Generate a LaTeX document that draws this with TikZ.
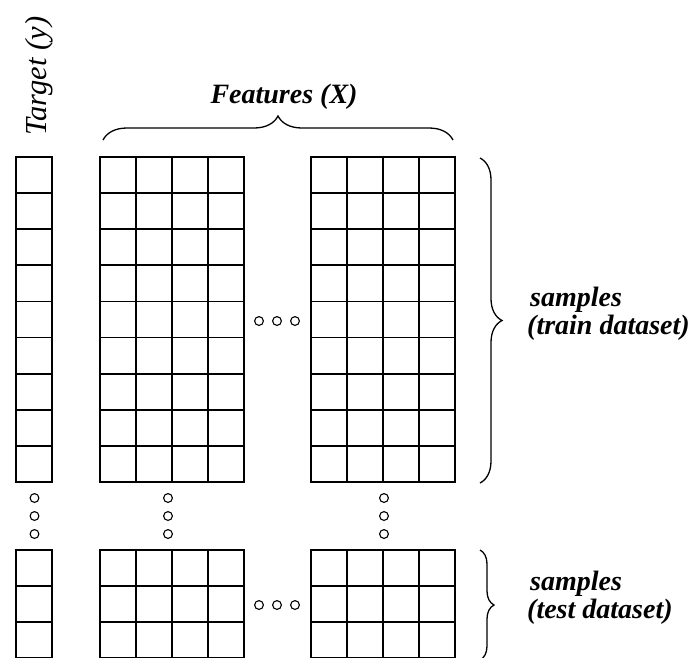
\documentclass[tikz,border=0pt]{standalone}
\usepackage{fontspec}
\setmainfont{Liberation Serif}
\usetikzlibrary{decorations.pathreplacing}
\begin{document}
\begin{tikzpicture}[x=1pt,y=-1pt,
  gl/.style={line width=1.7pt},
  smalldot/.style={line width=1.1pt},
  bracepath/.style={decorate, decoration={brace, amplitude=#1}, line width=1.3pt},
  lbl/.style={font=\fontsize{28}{30}\selectfont\bfseries\itshape, inner sep=0pt},
  tlbl/.style={font=\fontsize{30.5}{32}\selectfont\itshape, inner sep=0pt}]
\useasboundingbox (0,0) rectangle (693,657);
\clip (0,0) rectangle (693,657);
% ---- train section ----
\def\h{36.11}
\draw[gl] (16,157) rectangle (52,482);
\foreach \k in {1,...,8} \draw[gl] (16,157+\k*\h) -- (52,157+\k*\h);
\foreach \xa/\xb in {100/244, 311/455} {
  \draw[gl] (\xa,157) rectangle (\xb,482);
  \foreach \k in {1,...,8} \draw[gl] (\xa,157+\k*\h) -- (\xb,157+\k*\h);
  \foreach \c in {1,2,3} \draw[gl] (\xa+\c*36,157) -- (\xa+\c*36,482);
}
% ---- test section ----
\draw[gl] (16,550) rectangle (52,700);
\foreach \k in {1,2,3} \draw[gl] (16,550+\k*\h) -- (52,550+\k*\h);
\foreach \xa/\xb in {100/244, 311/455} {
  \draw[gl] (\xa,550) rectangle (\xb,700);
  \foreach \k in {1,2,3} \draw[gl] (\xa,550+\k*\h) -- (\xb,550+\k*\h);
  \foreach \c in {1,2,3} \draw[gl] (\xa+\c*36,550) -- (\xa+\c*36,700);
}
% ---- dots ----
\foreach \xx in {34.5,168,384}
  \foreach \yy in {498,516,534}
    \draw[smalldot] (\xx,\yy) circle[radius=4.4];
\foreach \yy in {321,605}
  \foreach \xx in {259,277,295}
    \draw[smalldot] (\xx,\yy) circle[radius=4.4];
% ---- braces ----
\coordinate (fb1) at (103,140);
\coordinate (fb2) at (453,140);
\draw[bracepath=24] (fb1) -- (fb2);
\coordinate (tb1) at (480,158);
\coordinate (tb2) at (480,483);
\draw[bracepath=22] (tb1) -- (tb2);
\coordinate (sb1) at (480,550);
\coordinate (sb2) at (480,660);
\draw[bracepath=14] (sb1) -- (sb2);
% ---- labels ----
\node[lbl, anchor=base] (feat) at (284,103) {Features (X)};
\node[tlbl, rotate=90, anchor=base] (tgt) at (46,76) {Target (y)};
\node[lbl, anchor=base west] (trs) at (530,306) {samples};
\node[lbl, anchor=base west] (trd) at (527,334) {(train dataset)};
\node[lbl, anchor=base west] (tes) at (530,590) {samples};
\node[lbl, anchor=base west] (ted) at (527,618) {(test dataset)};
\end{tikzpicture}
\end{document}
